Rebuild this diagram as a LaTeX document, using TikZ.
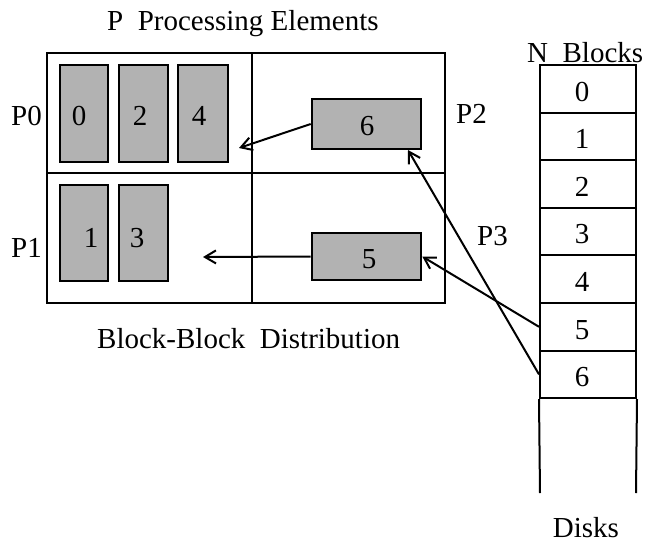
\documentclass[tikz,border=0pt]{standalone}
\usepackage{fontspec}
\setmainfont{Liberation Serif}
\usetikzlibrary{arrows.meta}
\begin{document}
\begin{tikzpicture}[x=1pt,y=-1pt,
  lbl/.style={font=\fontsize{29}{32}\selectfont, inner sep=0pt, anchor=base},
  lblw/.style={lbl, anchor=base west},
  blk/.style={draw=black, line width=2.6pt, fill=black!30, inner sep=0pt},
  grid/.style={draw=black, line width=2pt},
  cell/.style={draw=black, line width=2pt, minimum width=96pt, minimum height=47.6pt, inner sep=0pt},
  arr/.style={line width=2pt, -{Straight Barb[length=11pt,width=13pt,line width=2pt]}}
]
\useasboundingbox (0,0) rectangle (646,544);

% titles
\node[lblw] (title) at (107,30) {P\ \ Processing Elements};
\node[lblw] (nblocks) at (527,62) {N\ \ Blocks};
\node[lblw] (dist) at (97,348) {Block-Block\ \ Distribution};
\node[lbl] (disks) at (586,537) {Disks};

% PE grid
\draw[grid] (47,53) rectangle (445,303);
\draw[grid] (252,53) -- (252,303);
\draw[grid] (47,173) -- (445,173);

% processor labels
\node[lblw] (p0) at (11,125) {P0};
\node[lblw] (p1) at (11,257) {P1};
\node[lblw] (p2) at (456,123) {P2};
\node[lblw] (p3) at (477,245) {P3};

% blocks in PEs
\path[blk] (60,65) rectangle (108,162) coordinate (b0);
\path[blk] (119,65) rectangle (168,162) coordinate (b2);
\path[blk] (178,65) rectangle (228,162) coordinate (b4);
\path[blk] (60,185) rectangle (108,281) coordinate (b1);
\path[blk] (119,185) rectangle (168,281) coordinate (b3);
\node[blk, minimum width=109pt, minimum height=50pt] (b6) at (366.5,124) {};
\node[blk, minimum width=109pt, minimum height=47pt] (b5) at (366.5,256.5) {};

\node[lbl] (n0) at (79,125) {0};
\node[lbl] (n2) at (140,125) {2};
\node[lbl] (n4) at (199,125) {4};
\node[lbl] (n1) at (91,247) {1};
\node[lbl] (n3) at (137,247) {3};
\node[lbl] (n6) at (367,135) {6};
\node[lbl] (n5) at (369,268) {5};

% disk column
\foreach \i in {0,...,6} {
  \node[cell] (d\i) at (588,{65+23.8+47.6*\i}) {};
  \node[lbl] (dn\i) at (582,{65+36+47.6*\i}) {\i};
}
\draw[grid] (d6.south west) -- (540,493);
\draw[grid] (d6.south east) -- (636,493);

% arrows
\coordinate (t0) at (239,148);
\coordinate (t1) at (203,257);
\coordinate (t6) at (408,150);
\draw[arr] (b6.west) -- (t0);
\draw[arr] (b5.west) -- (t1);
\draw[arr] (d5.west) -- (b5.east);
\draw[arr] (d6.west) -- (t6);
\end{tikzpicture}
\end{document}
